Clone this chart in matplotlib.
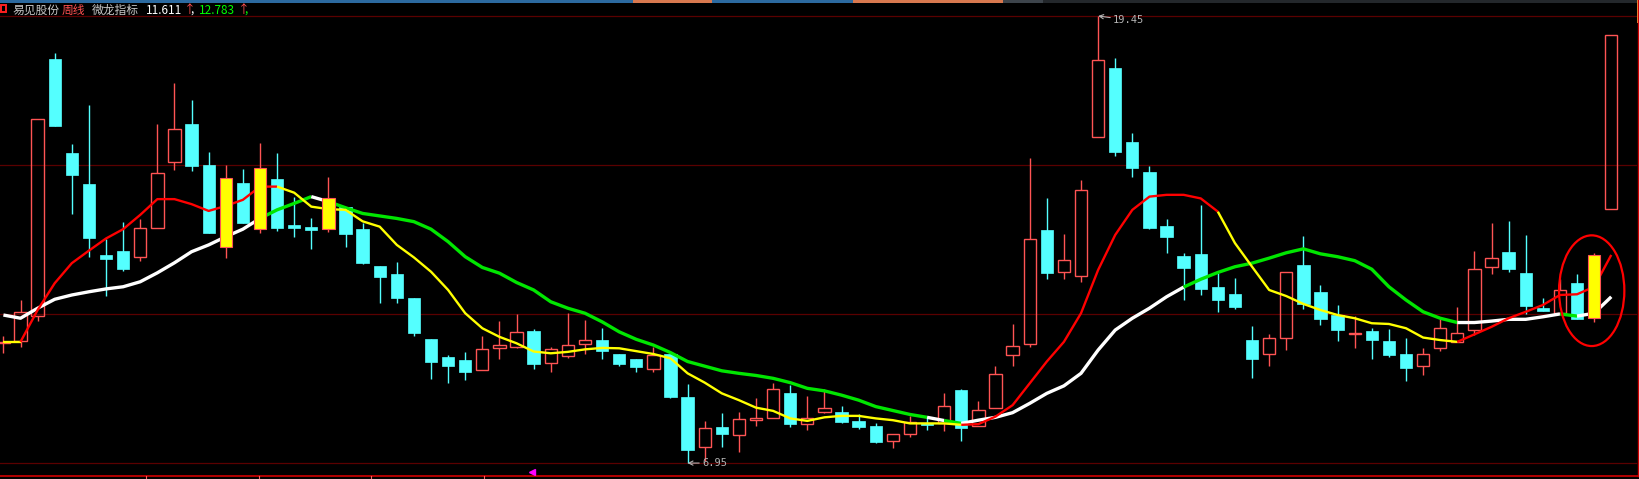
import matplotlib
matplotlib.use("Agg")
import numpy as np
import matplotlib.pyplot as plt
from matplotlib.patches import Rectangle, Ellipse
from matplotlib.lines import Line2D

# ---- weekly bars (price) ----
opens = [10.32, 10.36, 11.06, 18.25, 15.62, 14.75, 12.77, 12.88, 12.72, 13.51,
         15.36, 16.43, 15.28, 13.00, 14.78, 13.50, 14.89, 13.61, 13.55, 13.50,
         14.12, 13.49, 12.46, 12.24, 11.57, 10.42, 9.92, 9.83, 9.55, 10.16,
         10.19, 10.64, 9.74, 9.94, 10.27, 10.39, 10.00, 9.86, 9.59, 10.00,
         8.80, 7.39, 7.96, 7.73, 8.15, 8.20, 8.91, 8.03, 8.37, 8.37,
         8.13, 7.99, 7.56, 7.76, 8.08, 8.06, 8.99, 7.98, 8.48, 9.98,
         10.27, 13.47, 12.28, 12.17, 16.06, 17.99, 15.93, 15.09, 13.58, 12.74,
         12.80, 11.87, 11.68, 10.39, 9.99, 10.44, 12.49, 11.73, 11.10, 10.55,
         10.64, 10.36, 10.00, 9.66, 10.16, 10.33, 10.66, 12.43, 12.85, 12.26,
         11.28, 11.14, 11.98, 11.00, 14.05]
highs = [10.51, 11.51, 16.56, 18.42, 15.87, 16.96, 13.21, 13.69, 13.77, 16.43,
         17.58, 17.10, 15.65, 15.28, 15.17, 15.90, 15.62, 14.40, 13.80, 14.95,
         14.12, 13.65, 12.46, 12.57, 11.57, 10.42, 9.97, 10.06, 10.51, 10.92,
         11.12, 10.70, 10.19, 11.15, 10.95, 10.73, 10.00, 9.86, 10.19, 10.00,
         9.16, 8.13, 8.35, 8.38, 8.77, 9.19, 9.13, 8.83, 9.01, 8.55,
         8.31, 8.06, 7.76, 8.27, 8.25, 8.90, 9.02, 8.69, 9.66, 10.85,
         15.48, 14.36, 13.35, 14.87, 19.45, 18.27, 16.18, 15.26, 13.77, 12.83,
         14.17, 12.26, 12.12, 10.78, 10.56, 12.28, 13.30, 11.92, 11.37, 11.06,
         10.72, 10.69, 10.45, 10.16, 10.99, 11.31, 12.88, 13.66, 13.72, 13.32,
         11.56, 12.09, 12.24, 12.81, 18.91]
lows = [10.02, 10.19, 10.93, 16.38, 13.92, 12.72, 11.63, 12.33, 12.61, 13.51,
        15.15, 15.13, 13.39, 12.69, 13.67, 13.39, 13.45, 13.28, 12.94, 13.42,
        13.00, 12.53, 11.43, 11.43, 10.51, 9.31, 9.20, 9.28, 9.55, 9.87,
        10.16, 9.59, 9.51, 9.88, 9.99, 9.87, 9.67, 9.51, 9.51, 8.78,
        6.95, 7.01, 7.41, 7.27, 7.99, 8.20, 7.97, 7.87, 8.34, 8.08,
        7.90, 7.50, 7.36, 7.69, 7.87, 7.86, 7.58, 7.98, 8.48, 9.67,
        10.20, 12.09, 12.09, 12.02, 16.06, 15.54, 14.96, 13.49, 12.83, 11.52,
        11.66, 11.17, 11.25, 9.34, 9.67, 10.12, 11.27, 10.82, 10.37, 10.18,
        9.87, 9.92, 9.25, 9.42, 10.08, 10.33, 10.53, 12.24, 12.30, 11.11,
        11.20, 11.14, 10.97, 10.90, 14.05]
closes = [10.34, 11.18, 16.56, 16.38, 15.01, 13.25, 12.67, 12.38, 13.51, 15.05,
          16.29, 15.27, 13.39, 14.92, 13.67, 15.20, 13.53, 13.53, 13.47, 14.36,
          13.36, 12.55, 12.16, 11.57, 10.60, 9.79, 9.67, 9.51, 10.13, 10.24,
          10.61, 9.73, 10.13, 10.24, 10.38, 10.09, 9.73, 9.65, 9.97, 8.81,
          7.33, 7.92, 7.77, 8.18, 8.21, 9.02, 8.05, 8.20, 8.48, 8.11,
          7.97, 7.55, 7.76, 8.11, 8.01, 8.54, 7.94, 8.43, 9.43, 10.22,
          13.21, 12.27, 12.62, 14.58, 18.21, 15.66, 15.21, 13.53, 13.28, 12.41,
          11.83, 11.52, 11.32, 9.87, 10.44, 12.28, 11.41, 10.99, 10.68, 10.59,
          10.40, 9.98, 9.62, 9.99, 10.72, 10.58, 12.37, 12.68, 12.39, 11.35,
          11.20, 11.78, 10.97, 12.76, 18.91]

# ---- 微龙指标 lines ----
fast_line = [10.34, 10.34, 11.23, 11.98, 12.54, 12.89, 13.23, 13.49, 13.89, 14.33,
             14.33, 14.19, 14.00, 14.14, 14.31, 14.68, 14.68, 14.51, 14.12, 14.05,
             14.03, 13.71, 13.56, 13.05, 12.70, 12.30, 11.79, 11.14, 10.72, 10.48,
             10.30, 10.07, 10.02, 10.06, 10.13, 10.17, 10.16, 10.08, 10.00, 9.88,
             9.46, 9.20, 8.90, 8.71, 8.50, 8.41, 8.20, 8.13, 8.23, 8.27,
             8.27, 8.20, 8.15, 8.06, 8.06, 8.06, 8.02, 8.04, 8.25, 8.57,
             9.18, 9.79, 10.34, 11.14, 12.35, 13.33, 14.03, 14.40, 14.45, 14.45,
             14.35, 13.98, 13.10, 12.44, 11.79, 11.62, 11.40, 11.23, 11.09, 11.00,
             10.86, 10.84, 10.72, 10.46, 10.39, 10.34, 10.55, 10.76, 11.00, 11.18,
             11.37, 11.65, 11.67, 11.88, 12.77]
slow_line = [11.09, 11.00, 11.28, 11.53, 11.65, 11.74, 11.82, 11.88, 12.02, 12.27,
             12.55, 12.86, 13.05, 13.28, 13.49, 13.79, 14.03, 14.21, 14.40, 14.26,
             14.09, 13.93, 13.86, 13.79, 13.70, 13.49, 13.14, 12.72, 12.42, 12.26,
             12.00, 11.79, 11.46, 11.28, 11.14, 10.90, 10.62, 10.41, 10.25, 10.04,
             9.79, 9.66, 9.53, 9.46, 9.40, 9.32, 9.20, 9.04, 8.97, 8.85,
             8.71, 8.53, 8.42, 8.31, 8.23, 8.14, 8.06, 8.15, 8.23, 8.36,
             8.62, 8.90, 9.11, 9.46, 10.11, 10.67, 11.00, 11.28, 11.60, 11.87,
             12.09, 12.28, 12.44, 12.54, 12.68, 12.83, 12.94, 12.80, 12.72, 12.61,
             12.37, 11.88, 11.51, 11.18, 11.00, 10.88, 10.88, 10.92, 10.97, 10.97,
             11.04, 11.12, 11.06, 11.14, 11.60]

# colour segments (start, end index)
fast_segments = [(0, 1, "yellow"), (1, 16, "red"), (16, 56, "yellow"),
                 (56, 71, "red"), (71, 85, "yellow"), (85, 94, "red")]
slow_segments = [(0, 15, "white"), (15, 18, "green"), (18, 19, "white"),
                 (19, 54, "green"), (54, 55, "white"), (55, 56, "green"),
                 (56, 69, "white"), (69, 85, "green"), (85, 91, "white"),
                 (91, 92, "green"), (92, 94, "white")]
signal_bars = [13, 15, 19, 93]

header = [("易见股份", "#c8c8c8", 12.7), ("周线", "#ff5050", 61.7),
          ("微龙指标", "#c8c8c8", 91.7), ("11.611", "#ffffff", 145.7),
          ("↑", "#ff5050", 184), (",", "#ffffff", 190),
          ("12.783", "#00ff00", 199), ("↑", "#ff5050", 238), (",", "#00ff00", 244)]

# ---- layout (pixels of the 1639x479 picture) ----
W, H = 1639, 479
X0, DX = 3.4, 17.105          # first bar centre, bar spacing
P0, DP = 19.897, 0.027957     # price at top edge, price per pixel
UP, DOWN, SIG = "#ff5454", "#54ffff", "#ffff00"
LINE_COL = {"red": "#ff0000", "yellow": "#ffff00", "white": "#ffffff", "green": "#00e600"}

fig = plt.figure(figsize=(W / 100, H / 100), dpi=100, facecolor="black")
ax = fig.add_axes([0, 0, 1, 1])
ax.set_facecolor("black")
ax.set_xlim(-X0 / DX, (W - X0) / DX)
ax.set_ylim(P0 - DP * H, P0)
ax.axis("off")

def fx(px):
    return px / W

def fy(py):
    return 1 - py / H

# grid lines
for g in np.linspace(min(lows), max(highs), 4):
    ax.axhline(g, xmin=0, xmax=1636 / W, color="#5a0000", lw=0.9, zorder=0.5)

# candles
bw = 0.72
for i in range(len(opens)):
    o, h, l, c = opens[i], highs[i], lows[i], closes[i]
    lo, hi = min(o, c), max(o, c)
    body = max(hi - lo, DP)
    if i in signal_bars:
        ax.vlines(i, l, h, color=UP, lw=1, zorder=4)
        ax.add_patch(Rectangle((i - bw / 2, lo), bw, body, facecolor=SIG,
                               edgecolor=UP, lw=0.8, zorder=4.5))
    elif c >= o:
        ax.vlines(i, hi, h, color=UP, lw=1, zorder=1)
        ax.vlines(i, l, lo, color=UP, lw=1, zorder=1)
        ax.add_patch(Rectangle((i - bw / 2, lo), bw, body, facecolor="none",
                               edgecolor=UP, lw=1, zorder=2))
    else:
        ax.vlines(i, l, h, color=DOWN, lw=1, zorder=1)
        ax.add_patch(Rectangle((i - bw / 2, lo), bw, body, facecolor=DOWN,
                               edgecolor=DOWN, lw=0.5, zorder=2))

# indicator lines
xs = np.arange(len(fast_line))
for a, b, col in slow_segments:
    ax.plot(xs[a:b + 1], slow_line[a:b + 1], color=LINE_COL[col], lw=2.4, zorder=3,
            solid_capstyle="butt")
for a, b, col in fast_segments:
    ax.plot(xs[a:b + 1], fast_line[a:b + 1], color=LINE_COL[col], lw=1.7, zorder=3.2,
            solid_capstyle="butt")

# high / low marks
ih = int(np.argmax(highs))
il = int(np.argmin(lows))
ax.annotate(f"{highs[ih]:.2f}", xy=(ih, highs[ih]), xytext=(1113, H - 20),
            textcoords="figure pixels", ha="left", va="center", color="#b4b4b4",
            fontsize=7.5, family="DejaVu Sans Mono", zorder=6,
            arrowprops=dict(arrowstyle="->", color="#b4b4b4", lw=0.8,
                            shrinkA=0, shrinkB=0))
ax.annotate(f"{lows[il]:.2f}", xy=(il, lows[il]), xytext=(702, H - 463),
            textcoords="figure pixels", ha="left", va="center", color="#b4b4b4",
            fontsize=7.5, family="DejaVu Sans Mono", zorder=6,
            arrowprops=dict(arrowstyle="->", color="#b4b4b4", lw=0.8,
                            shrinkA=0, shrinkB=0))

# red circle round the last signal
ax.add_patch(Ellipse(((1591.7 - X0) / DX, P0 - DP * 290.7), 65.3 / DX, 110.7 * DP,
                     facecolor="none", edgecolor="#ff0000", lw=1.6, zorder=6))

# frame: bottom axis, right axis, top strip
fig.add_artist(Line2D([0, fx(1638)], [fy(476)] * 2, color="#d00000", lw=1.2))
fig.add_artist(Line2D([fx(1637.7)] * 2, [fy(476), 1], color="#d00000", lw=1.0))
for tx in [145.5, 258.5, 371.4, 484.4]:
    fig.add_artist(Line2D([fx(tx)] * 2, [fy(476), 0], color="#ff6060", lw=0.8))
fig.add_artist(Line2D([fx(532)], [fy(472)], marker="<", color="#ff00ff", ms=4.5, lw=0))
for x1, x2, col in [(0, 633, "#2c6aa0"), (633, 712, "#d8784f"), (712, 853, "#2c6aa0"),
                    (853, 1003, "#d8784f"), (1003, 1043, "#3d444b"), (1043, W, "#23272b")]:
    fig.add_artist(Rectangle((fx(x1), fy(3)), fx(x2) - fx(x1), 3 / H,
                             transform=fig.transFigure, color=col, lw=0))
fig.add_artist(Rectangle((fx(1636.5), fy(23)), 2.5 / W, 23 / H,
                         transform=fig.transFigure, color="#e8a040", lw=0))

# header
fig.add_artist(Rectangle((fx(1), fy(11.5)), 4.5 / W, 7 / H, transform=fig.transFigure,
                         facecolor="none", edgecolor="#ff2020", lw=1.4))
for txt, col, px in header:
    fig.text(fx(px), fy(10), txt, color=col, fontsize=8.5, ha="left", va="center",
             family=["Noto Sans CJK SC", "DejaVu Sans"])

fig.savefig("out.png", dpi=100, facecolor="black")
